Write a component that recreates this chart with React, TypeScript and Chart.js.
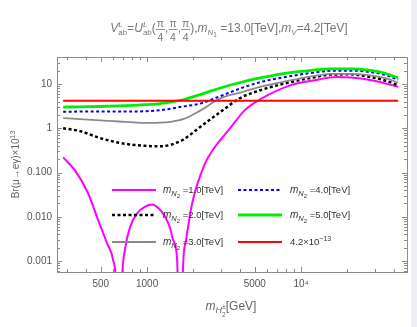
import React, { useEffect, useRef } from 'react';
import { Chart, registerables } from 'chart.js';
Chart.register(...registerables);

// shared mass grid (GeV) for the smooth curves
const gridX = [285, 367, 495, 658, 823, 971, 1214, 1411, 1713, 2209, 2979, 4017, 5417, 8483, 11966, 15430, 21120, 28050, 35130, 42650];
const mN2_2 = [1.0, 0.86, 0.6, 0.47, 0.42, 0.4, 0.39, 0.42, 0.55, 1.07, 2.3, 4.8, 7.2, 11, 14, 16.3, 16.5, 14.4, 12, 9.3];
const mN2_3 = [1.7, 1.6, 1.5, 1.42, 1.36, 1.32, 1.34, 1.4, 1.6, 2.5, 4.7, 6.4, 8.6, 12, 15, 17, 17, 15.7, 13.5, 10.8];
const mN2_4 = [2.35, 2.38, 2.4, 2.4, 2.4, 2.42, 2.55, 2.75, 3.1, 3.6, 5.3, 7.9, 11, 15, 18, 19.8, 20, 18.6, 16, 12.5];
const mN2_5 = [3.0, 3.05, 3.1, 3.2, 3.3, 3.4, 3.6, 3.9, 4.4, 5.75, 8.1, 10.8, 13.7, 18, 20.5, 22, 22, 20.4, 17.5, 13.7];
// m_N2 = 1.0 TeV curve (has two zeros)
const mN2_1X = [285, 341, 414, 481, 550, 602, 629, 658, 688, 720, 776, 861, 971, 1078, 1179, 1309, 1411, 1475, 1566, 1638, 1713, 1792, 1960, 2380, 2683, 3459, 4329, 5417, 8483, 11966, 17130, 21120, 29350, 42650];
const mN2_1 = [0.22, 0.11, 0.034, 0.0084, 0.0025, 0.00105, 0.0003, 0.000001, 0.0004, 0.0019, 0.0059, 0.012, 0.017, 0.019, 0.016, 0.01, 0.0055, 0.003, 0.0011, 0.000001, 0.0008, 0.003, 0.02, 0.16, 0.33, 1.0, 2.6, 4.5, 9.3, 12, 14.4, 14, 12, 8.6];
const limitX = [285, 42650];
const limitY = [4.2, 4.2];

const xTickValues = [500, 1000, 5000, 10000];
const xTickLabels = ['500', '1000', '5000', '10⁴'];
const yTickValues = [0.001, 0.01, 0.1, 1, 10];
const yTickLabels = ['0.001', '0.010', '0.100', '1', '10'];

const legendLabels = ['=1.0[TeV]', '=2.0[TeV]', '=3.0[TeV]', '=4.0[TeV]', '=5.0[TeV]'];

const FONT = '"Liberation Sans", Arial, sans-serif';

type Part = { t?: string; s: number; i?: boolean; dy?: number; adv?: boolean; frac?: [string, string] };

function fnt(p: Part) {
  return `${p.i ? 'italic ' : ''}${p.s}px ${FONT}`;
}
function partWidth(ctx: CanvasRenderingContext2D, p: Part) {
  ctx.font = fnt(p);
  if (p.frac) {
    return Math.max(ctx.measureText(p.frac[0]).width, ctx.measureText(p.frac[1]).width) + 2;
  }
  return ctx.measureText(p.t || '').width;
}
function measureParts(ctx: CanvasRenderingContext2D, parts: Part[]) {
  let w = 0;
  for (const p of parts) if (p.adv !== false) w += partWidth(ctx, p);
  return w;
}
function drawParts(ctx: CanvasRenderingContext2D, parts: Part[], x: number, y: number, color: string) {
  ctx.fillStyle = color;
  ctx.strokeStyle = color;
  ctx.textAlign = 'left';
  ctx.textBaseline = 'alphabetic';
  let cx = x;
  for (const p of parts) {
    const w = partWidth(ctx, p);
    ctx.font = fnt(p);
    if (p.frac) {
      const w0 = ctx.measureText(p.frac[0]).width;
      const w1 = ctx.measureText(p.frac[1]).width;
      ctx.fillText(p.frac[0], cx + (w - w0) / 2, y - 5);
      ctx.fillText(p.frac[1], cx + (w - w1) / 2, y + 9);
      ctx.lineWidth = 0.8;
      ctx.beginPath();
      ctx.moveTo(cx, y - 2.5);
      ctx.lineTo(cx + w, y - 2.5);
      ctx.stroke();
    } else {
      ctx.fillText(p.t || '', cx, y + (p.dy || 0));
    }
    if (p.adv !== false) cx += w;
  }
}

const titleParts: Part[] = [
  { t: 'V', s: 12, i: true },
  { t: 'L', s: 8, i: true, dy: -5, adv: false },
  { t: 'ab', s: 8, dy: 3 },
  { t: '=', s: 12 },
  { t: 'U', s: 12, i: true },
  { t: 'L', s: 8, i: true, dy: -5, adv: false },
  { t: 'ab', s: 8, dy: 3 },
  { t: '(', s: 12 },
  { s: 10.5, frac: ['π', '4'] },
  { t: ',', s: 12 },
  { s: 10.5, frac: ['π', '4'] },
  { t: ',', s: 12 },
  { s: 10.5, frac: ['π', '4'] },
  { t: '),', s: 12 },
  { t: 'm', s: 12, i: true },
  { t: 'N', s: 8, i: true, dy: 3 },
  { t: '1', s: 6.5, dy: 5 },
  { t: ' =13.0[TeV],', s: 12 },
  { t: 'm', s: 12, i: true },
  { t: 'V', s: 8, i: true, dy: 3 },
  { t: '=4.2[TeV]', s: 12 },
];

const yTitleParts: Part[] = [
  { t: 'Br(μ→eγ)×10', s: 10 },
  { t: '13', s: 7, dy: -4 },
];

const xTitleParts: Part[] = [
  { t: 'm', s: 12, i: true },
  { t: 'H', s: 9, i: true, dy: 3 },
  { t: '±', s: 7, dy: -1, adv: false },
  { t: '2', s: 6.5, dy: 7 },
  { t: '[GeV]', s: 12 },
];

function legendParts(label: string): Part[] {
  return [
    { t: 'm', s: 10, i: true },
    { t: 'N', s: 7.5, i: true, dy: 3 },
    { t: '2', s: 6, dy: 5 },
    { t: ' ' + label, s: 9.5 },
  ];
}

const magenta = '#ff00ff';
const black = '#000000';
const gray = '#8a8a8a';
const blue = '#0000ff';
const green = '#00ee00';
const red = '#ff0000';

const legendEntries = [
  { col: 0, row: 0, color: magenta, width: 2, dash: [] as number[], parts: legendParts(legendLabels[0]) },
  { col: 0, row: 1, color: black, width: 2.5, dash: [3, 2.5], parts: legendParts(legendLabels[1]) },
  { col: 0, row: 2, color: gray, width: 1.8, dash: [] as number[], parts: legendParts(legendLabels[2]) },
  { col: 1, row: 0, color: blue, width: 2, dash: [3, 2.5], parts: legendParts(legendLabels[3]) },
  { col: 1, row: 1, color: green, width: 2.8, dash: [] as number[], parts: legendParts(legendLabels[4]) },
  {
    col: 1, row: 2, color: red, width: 2, dash: [] as number[], parts: [
      { t: '4.2×10', s: 9.5 },
      { t: '−13', s: 7, dy: -4 },
    ] as Part[]
  },
];

const decorPlugin = {
  id: 'decor',
  beforeDraw(chart: any) {
    const ctx = chart.ctx as CanvasRenderingContext2D;
    ctx.save();
    ctx.fillStyle = '#ffffff';
    ctx.fillRect(0, 0, chart.width, chart.height);
    ctx.fillStyle = '#edf1f6';
    ctx.fillRect(411, 0, chart.width - 411, chart.height);
    ctx.restore();
  },
  afterDraw(chart: any) {
    const ctx = chart.ctx as CanvasRenderingContext2D;
    const a = chart.chartArea;
    const xs = chart.scales.x;
    const ys = chart.scales.y;
    ctx.save();
    // frame
    const fc = '#8c8c8c';
    ctx.strokeStyle = fc;
    ctx.lineWidth = 1;
    ctx.setLineDash([]);
    ctx.strokeRect(Math.round(a.left) + 0.5, Math.round(a.top) + 0.5, Math.round(a.right - a.left), Math.round(a.bottom - a.top));
    // x ticks
    ctx.beginPath();
    for (let d = 2; d <= 4; d++) {
      for (let k = 1; k <= 9; k++) {
        const v = k * Math.pow(10, d);
        if (v < xs.min || v > xs.max) continue;
        const major = xTickValues.some((m) => Math.abs(m - v) < 1e-6 * v);
        const len = major ? 5 : 3;
        const px = Math.round(xs.getPixelForValue(v)) + 0.5;
        ctx.moveTo(px, a.bottom);
        ctx.lineTo(px, a.bottom - len);
        ctx.moveTo(px, a.top);
        ctx.lineTo(px, a.top + len);
      }
    }
    // y ticks
    for (let d = -4; d <= 1; d++) {
      for (let k = 1; k <= 9; k++) {
        const v = k * Math.pow(10, d);
        if (v < ys.min || v > ys.max) continue;
        const len = k === 1 ? 5 : 3;
        const py = Math.round(ys.getPixelForValue(v)) + 0.5;
        ctx.moveTo(a.left, py);
        ctx.lineTo(a.left + len, py);
        ctx.moveTo(a.right, py);
        ctx.lineTo(a.right - len, py);
      }
    }
    ctx.stroke();

    // legend
    const colLine = [112, 238];
    const colText = [163, 290];
    const rowY = [190, 215, 242];
    for (const e of legendEntries) {
      const y = rowY[e.row];
      ctx.strokeStyle = e.color;
      ctx.lineWidth = e.width;
      ctx.setLineDash(e.dash);
      ctx.lineCap = 'butt';
      ctx.beginPath();
      ctx.moveTo(colLine[e.col], y);
      ctx.lineTo(colLine[e.col] + 44, y);
      ctx.stroke();
      ctx.setLineDash([]);
      drawParts(ctx, e.parts, colText[e.col], y + 3, '#333333');
    }

    // title
    const tw = measureParts(ctx, titleParts);
    drawParts(ctx, titleParts, 229 - tw / 2, 32, '#777777');

    // x title
    const xw = measureParts(ctx, xTitleParts);
    drawParts(ctx, xTitleParts, 231 - xw / 2, 310, '#666666');

    // y title
    ctx.save();
    ctx.translate(19, (a.top + a.bottom) / 2);
    ctx.rotate(-Math.PI / 2);
    const yw = measureParts(ctx, yTitleParts);
    drawParts(ctx, yTitleParts, -yw / 2, 0, '#666666');
    ctx.restore();

    ctx.restore();
  },
};

function pts(xv: number[], yv: number[]) {
  return xv.map((x, i) => ({ x, y: yv[i] }));
}

export default function App() {
  const ref = useRef<HTMLCanvasElement | null>(null);
  useEffect(() => {
    if (!ref.current) return;
    const common = { pointRadius: 0, fill: false, cubicInterpolationMode: 'monotone' as const, borderCapStyle: 'butt' as const };
    const chart = new Chart(ref.current, {
      type: 'line',
      data: {
        datasets: [
          { ...common, label: 'mN2=1.0', data: pts(mN2_1X, mN2_1), borderColor: magenta, borderWidth: 2, order: 6 },
          { ...common, label: 'mN2=2.0', data: pts(gridX, mN2_2), borderColor: black, borderWidth: 2.5, borderDash: [3, 2.5], order: 5 },
          { ...common, label: 'mN2=3.0', data: pts(gridX, mN2_3), borderColor: gray, borderWidth: 1.8, order: 4 },
          { ...common, label: 'mN2=4.0', data: pts(gridX, mN2_4), borderColor: blue, borderWidth: 2, borderDash: [3, 2.5], order: 3 },
          { ...common, label: 'mN2=5.0', data: pts(gridX, mN2_5), borderColor: green, borderWidth: 2.8, order: 2 },
          { ...common, label: '4.2e-13', data: pts(limitX, limitY), borderColor: red, borderWidth: 2, order: 1 },
        ],
      },
      options: {
        animation: false,
        responsive: false,
        layout: { padding: { left: 0, right: 10, top: 57, bottom: 0 } },
        plugins: { legend: { display: false }, title: { display: false }, tooltip: { enabled: false } },
        scales: {
          x: {
            type: 'logarithmic',
            min: 260,
            max: 48700,
            grid: { display: false, drawTicks: false },
            border: { display: false },
            afterBuildTicks: (s: any) => {
              s.ticks = xTickValues.map((v) => ({ value: v }));
            },
            afterFit: (s: any) => {
              s.height = 55;
            },
            ticks: {
              autoSkip: false,
              maxRotation: 0,
              padding: 6,
              color: '#555555',
              font: { size: 10, family: FONT },
              callback: (v: any) => {
                const i = xTickValues.findIndex((m) => Math.abs(m - Number(v)) < 1e-6 * m);
                return i >= 0 ? xTickLabels[i] : '';
              },
            },
          },
          y: {
            type: 'logarithmic',
            min: 0.000565,
            max: 40.7,
            grid: { display: false, drawTicks: false },
            border: { display: false },
            afterBuildTicks: (s: any) => {
              s.ticks = yTickValues.map((v) => ({ value: v }));
            },
            afterFit: (s: any) => {
              s.width = 57;
            },
            ticks: {
              autoSkip: false,
              padding: 5,
              color: '#555555',
              font: { size: 10, family: FONT },
              callback: (v: any) => {
                const i = yTickValues.findIndex((m) => Math.abs(m - Number(v)) < 1e-6 * m);
                return i >= 0 ? yTickLabels[i] : '';
              },
            },
          },
        },
      },
      plugins: [decorPlugin],
    } as any);
    return () => chart.destroy();
  }, []);
  return (
    <div style={{ position: 'absolute', left: 0, top: 0, width: 417, height: 327 }}>
      <canvas ref={ref} width={417} height={327} />
    </div>
  );
}
